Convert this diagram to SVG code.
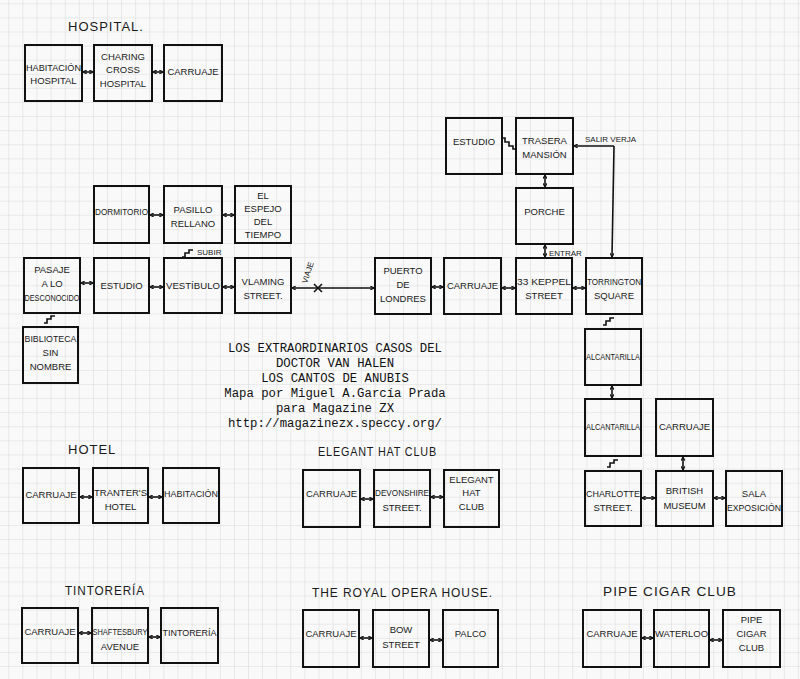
<svg xmlns="http://www.w3.org/2000/svg" width="800" height="679" viewBox="0 0 800 679">
<defs>
<pattern id="grid" patternUnits="userSpaceOnUse" x="8.3" y="3.3" width="14.1" height="14.1">
<path d="M0,0 H14.1 M0,0 V14.1" fill="none" stroke="#d9d9d9" stroke-width="1.1"/>
</pattern>
<marker id="ah" viewBox="0 0 6 6" refX="5.5" refY="3" markerWidth="4.5" markerHeight="4.5" markerUnits="userSpaceOnUse" orient="auto-start-reverse">
<path d="M0.5,0.3 L5.5,3 L0.5,5.7" fill="none" stroke="#111" stroke-width="1.5"/>
</marker>
<style>
.b{fill:none;stroke:#111;stroke-width:2}
.t{font-family:"Liberation Sans",Arial,sans-serif;font-size:9.5px;fill:#1a1a1a;text-anchor:middle}
.h{font-family:"Liberation Sans",Arial,sans-serif;font-size:13px;fill:#1a1a1a;letter-spacing:1px}
.s{font-family:"Liberation Sans",Arial,sans-serif;font-size:8px;fill:#1a1a1a}
.c{fill:none;stroke:#111;stroke-width:1.6;marker-start:url(#ah);marker-end:url(#ah)}
.l{fill:none;stroke:#111;stroke-width:1.6}
.m{font-family:"Liberation Mono","Courier New",monospace;font-size:12.3px;fill:#111;text-anchor:middle}
</style>
</defs>
<rect width="800" height="679" fill="#f9f9f9"/>
<rect width="800" height="679" fill="url(#grid)"/>

<!-- titles -->
<g id="titles">
<text class="h" x="68" y="31">HOSPITAL.</text>
<text class="h" x="68" y="454">HOTEL</text>
<text class="h" x="318" y="456" textLength="119" lengthAdjust="spacingAndGlyphs">ELEGANT HAT CLUB</text>
<text class="h" x="65" y="595" textLength="80" lengthAdjust="spacingAndGlyphs">TINTORERÍA</text>
<text class="h" x="312" y="597" textLength="181" lengthAdjust="spacingAndGlyphs">THE ROYAL OPERA HOUSE.</text>
<text class="h" x="603" y="596" textLength="134" lengthAdjust="spacingAndGlyphs">PIPE CIGAR CLUB</text>
</g>

<g id="credits">
<text class="m" x="335" y="352">LOS EXTRAORDINARIOS CASOS DEL</text>
<text class="m" x="335" y="367">DOCTOR VAN HALEN</text>
<text class="m" x="335" y="382">LOS CANTOS DE ANUBIS</text>
<text class="m" x="335" y="397">Mapa por Miguel A.García Prada</text>
<text class="m" x="335" y="412">para Magazine ZX</text>
<text class="m" x="335" y="427">http://magazinezx.speccy.org/</text>
</g>

<!-- Hospital -->
<g id="hab_hospital"><rect class="b" x="25" y="45" width="57" height="56"/><text class="t" x="53.5" y="71" textLength="55" lengthAdjust="spacingAndGlyphs">HABITACIÓN</text><text class="t" x="53.5" y="84">HOSPITAL</text></g>
<g id="charing"><rect class="b" x="94" y="45" width="58" height="56"/><text class="t" x="123" y="60">CHARING</text><text class="t" x="123" y="73">CROSS</text><text class="t" x="123" y="87">HOSPITAL</text></g>
<g id="carruaje_hosp"><rect class="b" x="164" y="45" width="58" height="56"/><text class="t" x="193" y="75">CARRUAJE</text></g>

<!-- Mansion -->
<g id="estudio_mansion"><rect class="b" x="446" y="118" width="56" height="56"/><text class="t" x="474" y="145">ESTUDIO</text></g>
<g id="trasera"><rect class="b" x="516" y="118" width="57" height="56"/><text class="t" x="544.5" y="144">TRASERA</text><text class="t" x="544.5" y="158">MANSIÓN</text></g>
<g id="porche"><rect class="b" x="516" y="188" width="57" height="56"/><text class="t" x="544.5" y="215">PORCHE</text></g>

<g id="dormitorio"><rect class="b" x="94" y="186" width="55" height="57"/><text class="t" x="121.5" y="215" textLength="53" lengthAdjust="spacingAndGlyphs">DORMITORIO</text></g>
<g id="pasillo"><rect class="b" x="164" y="186" width="58" height="57"/><text class="t" x="193" y="213">PASILLO</text><text class="t" x="193" y="227">RELLANO</text></g>
<g id="espejo"><rect class="b" x="235" y="186" width="56" height="57"/><text class="t" x="263" y="199">EL</text><text class="t" x="263" y="212">ESPEJO</text><text class="t" x="263" y="225">DEL</text><text class="t" x="263" y="238">TIEMPO</text></g>

<g id="pasaje"><rect class="b" x="24" y="258" width="56" height="55"/><text class="t" x="52" y="273">PASAJE</text><text class="t" x="52" y="287">A LO</text><text class="t" x="52" y="301" textLength="55" lengthAdjust="spacingAndGlyphs">DESCONOCIDO</text></g>
<g id="estudio"><rect class="b" x="94" y="258" width="55" height="55"/><text class="t" x="121.5" y="289">ESTUDIO</text></g>
<g id="vestibulo"><rect class="b" x="164" y="258" width="58" height="55"/><text class="t" x="193" y="289" textLength="54" lengthAdjust="spacingAndGlyphs">VESTÍBULO</text></g>
<g id="vlaming"><rect class="b" x="235" y="258" width="56" height="55"/><text class="t" x="263" y="285">VLAMING</text><text class="t" x="263" y="299">STREET.</text></g>
<g id="biblioteca"><rect class="b" x="23" y="327" width="55" height="56"/><text class="t" x="50.5" y="342" textLength="52" lengthAdjust="spacingAndGlyphs">BIBLIOTECA</text><text class="t" x="50.5" y="356">SIN</text><text class="t" x="50.5" y="370">NOMBRE</text></g>

<g id="puerto"><rect class="b" x="375" y="258" width="56" height="56"/><text class="t" x="403" y="274">PUERTO</text><text class="t" x="403" y="288">DE</text><text class="t" x="403" y="302">LONDRES</text></g>
<g id="carruaje_londres"><rect class="b" x="444" y="258" width="57" height="56"/><text class="t" x="472.5" y="289">CARRUAJE</text></g>
<g id="keppel"><rect class="b" x="516" y="258" width="56" height="56"/><text class="t" x="544" y="285" textLength="54" lengthAdjust="spacingAndGlyphs">33 KEPPEL</text><text class="t" x="544" y="299">STREET</text></g>
<g id="torrington"><rect class="b" x="586" y="258" width="56" height="56"/><text class="t" x="614" y="285" textLength="54" lengthAdjust="spacingAndGlyphs">TORRINGTON</text><text class="t" x="614" y="299">SQUARE</text></g>

<g id="alcantarilla1"><rect class="b" x="585" y="329" width="56" height="56"/><text class="t" x="613" y="360" textLength="54" lengthAdjust="spacingAndGlyphs">ALCANTARILLA</text></g>
<g id="alcantarilla2"><rect class="b" x="585" y="399" width="56" height="57"/><text class="t" x="613" y="430" textLength="54" lengthAdjust="spacingAndGlyphs">ALCANTARILLA</text></g>
<g id="carruaje_museum"><rect class="b" x="656" y="399" width="57" height="57"/><text class="t" x="684.5" y="430">CARRUAJE</text></g>
<g id="charlotte"><rect class="b" x="585" y="471" width="56" height="55"/><text class="t" x="613" y="497" textLength="54" lengthAdjust="spacingAndGlyphs">CHARLOTTE</text><text class="t" x="613" y="511">STREET.</text></g>
<g id="british"><rect class="b" x="656" y="471" width="57" height="55"/><text class="t" x="684.5" y="494">BRITISH</text><text class="t" x="684.5" y="509">MUSEUM</text></g>
<g id="sala"><rect class="b" x="726" y="471" width="56" height="55"/><text class="t" x="754" y="497">SALA</text><text class="t" x="754" y="511" textLength="54" lengthAdjust="spacingAndGlyphs">EXPOSICIÓN</text></g>

<!-- Hotel -->
<g id="carruaje_hotel"><rect class="b" x="23" y="468" width="56" height="55"/><text class="t" x="51" y="498">CARRUAJE</text></g>
<g id="tranters"><rect class="b" x="93" y="468" width="55" height="55"/><text class="t" x="120.5" y="496" textLength="53" lengthAdjust="spacingAndGlyphs">TRANTER'S</text><text class="t" x="120.5" y="510">HOTEL</text></g>
<g id="habitacion"><rect class="b" x="163" y="468" width="56" height="55"/><text class="t" x="191" y="497" textLength="54" lengthAdjust="spacingAndGlyphs">HABITACIÓN</text></g>

<!-- Elegant Hat Club -->
<g id="carruaje_elegant"><rect class="b" x="303" y="470" width="57" height="57"/><text class="t" x="331.5" y="497">CARRUAJE</text></g>
<g id="devonshire"><rect class="b" x="374" y="470" width="56" height="57"/><text class="t" x="402" y="496" textLength="54" lengthAdjust="spacingAndGlyphs">DEVONSHIRE</text><text class="t" x="402" y="511">STREET.</text></g>
<g id="elegant_club"><rect class="b" x="444" y="470" width="55" height="57"/><text class="t" x="471.5" y="483">ELEGANT</text><text class="t" x="471.5" y="496">HAT</text><text class="t" x="471.5" y="510">CLUB</text></g>

<!-- Tintoreria -->
<g id="carruaje_tinto"><rect class="b" x="22" y="608" width="56" height="55"/><text class="t" x="50" y="635">CARRUAJE</text></g>
<g id="shaftesbury"><rect class="b" x="92" y="608" width="56" height="55"/><text class="t" x="120" y="635" textLength="55" lengthAdjust="spacingAndGlyphs">SHAFTESBURY</text><text class="t" x="120" y="650">AVENUE</text></g>
<g id="tintoreria"><rect class="b" x="161" y="608" width="57" height="55"/><text class="t" x="189.5" y="636" textLength="54" lengthAdjust="spacingAndGlyphs">TINTORERÍA</text></g>

<!-- Royal Opera House -->
<g id="carruaje_opera"><rect class="b" x="303" y="610" width="56" height="57"/><text class="t" x="331" y="637">CARRUAJE</text></g>
<g id="bow"><rect class="b" x="373" y="610" width="56" height="57"/><text class="t" x="401" y="633">BOW</text><text class="t" x="401" y="648">STREET</text></g>
<g id="palco"><rect class="b" x="443" y="610" width="55" height="57"/><text class="t" x="470.5" y="637">PALCO</text></g>

<!-- Pipe Cigar Club -->
<g id="carruaje_pipe"><rect class="b" x="583" y="610" width="58" height="57"/><text class="t" x="612" y="637">CARRUAJE</text></g>
<g id="waterloo"><rect class="b" x="654" y="610" width="55" height="57"/><text class="t" x="681.5" y="637" textLength="53" lengthAdjust="spacingAndGlyphs">WATERLOO</text></g>
<g id="pipe_club"><rect class="b" x="723" y="610" width="57" height="57"/><text class="t" x="751.5" y="623">PIPE</text><text class="t" x="751.5" y="637">CIGAR</text><text class="t" x="751.5" y="651">CLUB</text></g>

<!-- connectors -->
<g id="connectors">
<path class="c" d="M83,72 H93"/>
<path class="c" d="M153,72 H163"/>
<path class="c" d="M150,215 H163"/>
<path class="c" d="M223,215 H234"/>
<path class="c" d="M81,283 H93"/>
<path class="c" d="M150,287 H163"/>
<path class="c" d="M223,287 H234"/>
<path class="c" d="M292,288 H374"/>
<path class="l" d="M314,284 L322,292 M322,284 L314,292"/>
<path class="c" d="M432,287 H443"/>
<path class="c" d="M502,288 H515"/>
<path class="c" d="M573,288 H585"/>
<path class="c" d="M545,175 V187"/>
<path class="c" d="M545,245 V257"/>
<path class="l" d="M614,146 H574" marker-end="url(#ah)"/>
<path class="l" d="M614,146 L612,257" marker-end="url(#ah)"/>
<path class="c" d="M612,386 V398"/>
<path class="c" d="M683,457 V470"/>
<path class="c" d="M642,498 H655"/>
<path class="c" d="M714,498 H725"/>
<path class="c" d="M80,497 H92"/>
<path class="c" d="M149,497 H162"/>
<path class="c" d="M361,499 H373"/>
<path class="c" d="M431,497 H443"/>
<path class="c" d="M79,633 H91"/>
<path class="c" d="M149,637 H160"/>
<path class="c" d="M360,638 H372"/>
<path class="c" d="M430,640 H442"/>
<path class="c" d="M642,638 H653"/>
<path class="c" d="M710,640 H722"/>
<!-- stairs -->
<path class="l" d="M502,138 L505,138 L505,142 L509,142 L509,146 L513,146 L513,149 L516,149"/>
<path class="l" d="M44,323 L47,323 L47,319 L51,319 L51,316 L55,316"/>
<path class="l" d="M182,257 L185,257 L185,253 L189,253 L189,250 L193,250"/>
<path class="l" d="M603,325 L606,325 L606,321 L610,321 L610,318 L614,318"/>
<path class="l" d="M607,467 L610,467 L610,463 L614,463 L614,460 L618,460"/>
<text class="s" x="197" y="255">SUBIR</text>
<text class="s" x="549" y="256">ENTRAR</text>
<text class="s" x="585" y="142">SALIR VERJA</text>
<text class="s" transform="translate(307,284) rotate(-72)">VIAJE</text>
</g>
</svg>
